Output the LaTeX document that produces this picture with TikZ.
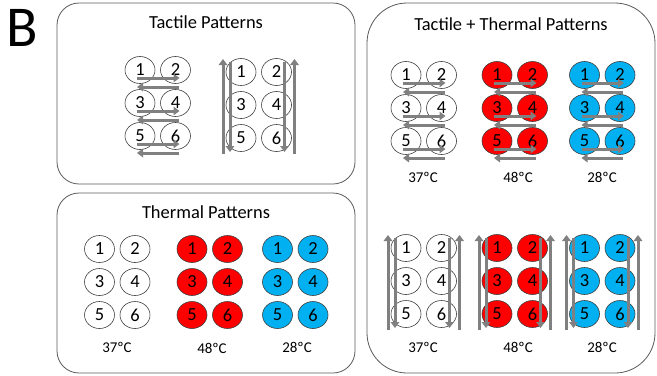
\documentclass[tikz,border=0pt]{standalone}
\usepackage{fontspec}
\setmainfont{Carlito}
\usetikzlibrary{arrows.meta,positioning,shapes.geometric}
\definecolor{padred}{HTML}{FF0000}
\definecolor{padblue}{HTML}{00B0F0}
\definecolor{arrowgray}{HTML}{808080}
\definecolor{framegray}{HTML}{5A5A5A}
\definecolor{rimgray}{HTML}{404040}

\begin{document}
\begin{tikzpicture}[x=1bp,y=-1bp,
  panel/.style={draw=framegray,line width=0.8bp,inner sep=0pt},
  heading/.style={font=\fontsize{18.5}{22}\selectfont,inner sep=0pt},
  pad/.style={ellipse,draw=rimgray,line width=0.6bp,minimum width=30bp,minimum height=27bp,inner sep=0pt,font=\fontsize{18.5}{21}\selectfont},
  temp/.style={font=\fontsize{15}{17}\selectfont,inner sep=0pt},
  flow/.style={draw=arrowgray,line width=3bp,-{Triangle[length=6bp,width=8.5bp]}}]
\useasboundingbox (0,0) rectangle (657,375);
\node[font=\fontsize{58}{60}\selectfont,inner sep=0pt] (label) at (22,28) {B};
% the three panels
\node[panel,rounded corners=22bp,minimum width=298bp,minimum height=181bp] (tact) at (206,93.5) {};
\node[panel,rounded corners=22bp,minimum width=298bp,minimum height=180bp] (therm) at (206,283) {};
\node[panel,rounded corners=40bp,minimum width=288bp,minimum height=370bp] (both) at (511,188) {};
\node[heading] (tacttitle) at (206,22) {Tactile Patterns};
\node[heading] (thermtitle) at (206,212) {Thermal Patterns};
\node[heading] (bothtitle) at (511,24) {Tactile + Thermal Patterns};
% pad grids
\foreach \g/\gx/\gy/\fc in {ta/140/70/white,tb/241/72/white,
    wa/99.5/249/white,wb/192/249/padred,wc/277.5/249/padblue,
    xa/406/75/white,xb/497/75/padred,xc/584.5/75/padblue,
    ya/406/248/white,yb/497/248/padred,yc/584.5/248/padblue}
  \foreach \n/\i/\j in {1/0/0,2/1/0,3/0/1,4/1/1,5/0/2,6/1/2}
    \node[pad,fill=\fc] (\g\n) at (\gx+35.5*\i,\gy+33*\j) {\n};
% temperatures
\node[temp] (wat) at (117,347) {37ºC};
\node[temp] (wbt) at (212,348) {48ºC};
\node[temp] (wct) at (297,347) {28ºC};
\node[temp] (xat) at (423,177) {37ºC};
\node[temp] (xbt) at (518,177) {48ºC};
\node[temp] (xct) at (602,177) {28ºC};
\node[temp] (yat) at (423,347) {37ºC};
\node[temp] (ybt) at (518,347) {48ºC};
\node[temp] (yct) at (602,347) {28ºC};
% row by row strokes
\foreach \g in {ta,xa,xb,xc}
  \foreach \l/\r in {1/2,3/4,5/6}{
    \draw[flow] ([shift={(-3,8)}]\g\l.center) -- ([shift={(4,8)}]\g\r.center);
    \draw[flow] ([shift={(3,17)}]\g\r.center) -- ([shift={(-3,17)}]\g\l.center);
  }
% column strokes
\foreach \g in {tb,ya,yb,yc}{
  \draw[flow] ([shift={(-18,16)}]\g5.center) -- ([shift={(-18,-13)}]\g1.center);
  \draw[flow] ([shift={(-11,-10)}]\g1.center) -- ([shift={(-11,14)}]\g5.center);
  \draw[flow] ([shift={(8,-10)}]\g2.center) -- ([shift={(8,14)}]\g6.center);
  \draw[flow] ([shift={(18,16)}]\g6.center) -- ([shift={(18,-13)}]\g2.center);
}
\end{tikzpicture}
\end{document}
